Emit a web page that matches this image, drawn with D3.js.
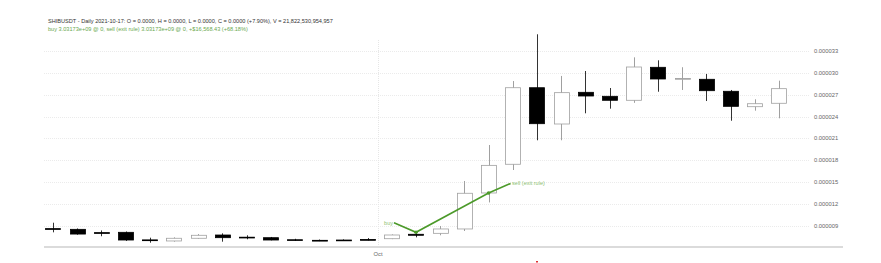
<!DOCTYPE html>
<html>
<head>
<meta charset="utf-8">
<script src="https://cdn.jsdelivr.net/npm/d3@7/dist/d3.min.js"></script>
<style>
  body { margin: 0; background: #fff; }
  svg { display: block; font-family: "Liberation Sans", Arial, sans-serif; }
</style>
</head>
<body>
<div id="graph-container"></div>
<script>
const width = 881;
const height = 263;

// daily SHIBUSDT candles, 2021-09-17 .. 2021-10-17 (values in 1e-6)
const opens  = [8.60, 8.50, 8.05, 8.09, 7.05, 6.90, 7.27, 7.72, 7.42, 7.35, 7.07, 6.99, 7.03, 7.10, 7.21, 7.82, 7.95, 8.55, 13.50, 17.45, 27.98, 22.99, 27.35, 26.80, 26.25, 30.79, 29.20, 29.14, 27.49, 25.37, 25.84];
const highs  = [9.41, 8.62, 8.35, 8.20, 7.35, 7.40, 7.85, 7.95, 7.68, 7.45, 7.20, 7.10, 7.12, 7.30, 7.80, 8.17, 8.96, 15.15, 20.10, 28.90, 35.33, 29.60, 30.28, 27.94, 32.16, 31.75, 30.80, 29.87, 27.67, 26.39, 28.95];
const lows   = [8.09, 7.76, 7.55, 6.90, 6.66, 6.80, 7.20, 6.80, 7.13, 6.98, 6.90, 6.88, 6.95, 6.98, 7.15, 7.40, 7.68, 8.27, 12.20, 16.66, 20.75, 20.75, 24.46, 25.10, 25.90, 27.43, 27.67, 26.15, 23.44, 24.82, 23.77];
const closes = [8.58, 7.85, 7.98, 7.03, 7.00, 7.27, 7.68, 7.35, 7.40, 7.03, 6.99, 6.97, 7.02, 7.05, 7.72, 7.68, 8.55, 13.46, 17.30, 27.98, 23.03, 27.30, 26.84, 26.25, 30.83, 29.18, 29.25, 27.57, 25.42, 25.78, 27.85];
const startDate = new Date(2021, 8, 17);

const yTicks = [9, 12, 15, 18, 21, 24, 27, 30, 33];
const trades = [
  { type: "buy",  label: "buy",              index: 15, price: 8.10 },
  { type: "sell", label: "sell (exit rule)", index: 18, price: 13.50 }
];

const titleLine = "SHIBUSDT - Daily 2021-10-17:  O = 0.0000,  H = 0.0000,  L = 0.0000,  C = 0.0000 (+7.90%), V = 21,822,530,954,957";
const tradeLine = "buy 3.03173e+09 @ 0, sell (exit rule) 3.03173e+09 @ 0, +$16,568.43 (+68.18%)";

const candles = opens.map((o, i) => ({
  date: d3.timeDay.offset(startDate, i),
  open: o * 1e-6, high: highs[i] * 1e-6, low: lows[i] * 1e-6, close: closes[i] * 1e-6
}));

const svg = d3.select("#graph-container")
  .append("svg")
  .attr("width", width)
  .attr("height", height);

const x = d3.scaleTime()
  .domain([startDate, d3.timeDay.offset(startDate, 30)])
  .range([39.2, 765.2]);
const step = x(d3.timeDay.offset(startDate, 1)) - x(startDate);
const cx = d => x(d) + step * 0.57;   // candles sit a bit past the day boundary
const y = d3.scaleLinear()
  .domain([6.111e-6, 35.92e-6])
  .range([246.7, 30]);

const plotLeft = 44, gridRight = 809, axisRight = 843;

// grid
svg.append("g")
  .selectAll("line")
  .data(yTicks)
  .join("line")
  .attr("x1", plotLeft)
  .attr("x2", gridRight)
  .attr("y1", d => Math.round(y(d * 1e-6)) + 0.5)
  .attr("y2", d => Math.round(y(d * 1e-6)) + 0.5)
  .attr("stroke", "#ebebeb")
  .attr("stroke-dasharray", "1,1");

// month separator
const octDate = new Date(2021, 9, 1);
svg.append("line")
  .attr("x1", Math.round(x(octDate)) + 0.5)
  .attr("x2", Math.round(x(octDate)) + 0.5)
  .attr("y1", 40)
  .attr("y2", 246)
  .attr("stroke", "#e6e6e6")
  .attr("stroke-dasharray", "1,1");

// y labels
svg.append("g")
  .selectAll("text")
  .data(yTicks)
  .join("text")
  .attr("x", 814)
  .attr("y", d => y(d * 1e-6))
  .attr("dy", "0.35em")
  .attr("font-size", "5.8px")
  .attr("fill", "#666")
  .text(d => d3.format(".6f")(d * 1e-6));

// bottom axis
svg.append("line")
  .attr("x1", plotLeft)
  .attr("x2", axisRight)
  .attr("y1", 247)
  .attr("y2", 247)
  .attr("stroke", "#cfcfcf")
  .attr("stroke-width", 1.5);

svg.append("text")
  .attr("x", x(octDate))
  .attr("y", 256)
  .attr("text-anchor", "middle")
  .attr("font-size", "5.8px")
  .attr("fill", "#666")
  .text(d3.timeFormat("%b")(octDate));

// candles
const bodyW = 15;
const up = d => d.close >= d.open;

const candle = svg.append("g")
  .selectAll("g")
  .data(candles)
  .join("g");

candle.append("line")
  .attr("x1", d => Math.round(cx(d.date)) + 0.5)
  .attr("x2", d => Math.round(cx(d.date)) + 0.5)
  .attr("y1", d => y(d.high))
  .attr("y2", d => y(d.low))
  .attr("stroke", d => up(d) ? "#a0a0a0" : "#333")
  .attr("stroke-width", 1);

candle.append("rect")
  .attr("x", d => Math.round(cx(d.date) - bodyW / 2) + 0.5)
  .attr("y", d => y(Math.max(d.open, d.close)))
  .attr("width", bodyW)
  .attr("height", d => Math.max(0.8, Math.abs(y(d.open) - y(d.close))))
  .attr("fill", d => up(d) ? "#fff" : "#000")
  .attr("stroke", d => up(d) ? "#a0a0a0" : "#000")
  .attr("stroke-width", 0.8);

// trade path: label -> entry -> exit -> label
const green = "#4c9a2a";
const pts = trades.map(t => [cx(candles[t.index].date), y(t.price * 1e-6)]);
const lblOff = 22;
const pathPts = [
  [pts[0][0] - lblOff, pts[0][1] - 9.5],
  pts[0],
  pts[1],
  [pts[1][0] + lblOff, pts[1][1] - 9.5]
];
svg.append("path")
  .attr("d", d3.line()(pathPts))
  .attr("fill", "none")
  .attr("stroke", green)
  .attr("stroke-width", 1.6);

svg.append("g")
  .selectAll("circle")
  .data(pts)
  .join("circle")
  .attr("cx", d => d[0])
  .attr("cy", d => d[1])
  .attr("r", 1.8)
  .attr("fill", green);

svg.append("text")
  .attr("x", pathPts[0][0] - 1)
  .attr("y", pathPts[0][1])
  .attr("dy", "0.35em")
  .attr("text-anchor", "end")
  .attr("font-size", "5.5px")
  .attr("fill", "#8cbf70")
  .text(trades[0].label);

svg.append("text")
  .attr("x", pathPts[3][0] + 1.5)
  .attr("y", pathPts[3][1])
  .attr("dy", "0.35em")
  .attr("font-size", "5.5px")
  .attr("fill", "#8cbf70")
  .text(trades[1].label);

// header
svg.append("text")
  .attr("x", 48)
  .attr("y", 22.5)
  .attr("font-size", "5.6px")
  .attr("fill", "#333")
  .text(titleLine);

svg.append("text")
  .attr("x", 48)
  .attr("y", 30.5)
  .attr("font-size", "5.6px")
  .attr("fill", "#6aa84f")
  .text(tradeLine);

// small red cursor mark under the axis
svg.append("rect")
  .attr("x", 536)
  .attr("y", 261)
  .attr("width", 2)
  .attr("height", 1.5)
  .attr("fill", "#e03030");
</script>
</body>
</html>
